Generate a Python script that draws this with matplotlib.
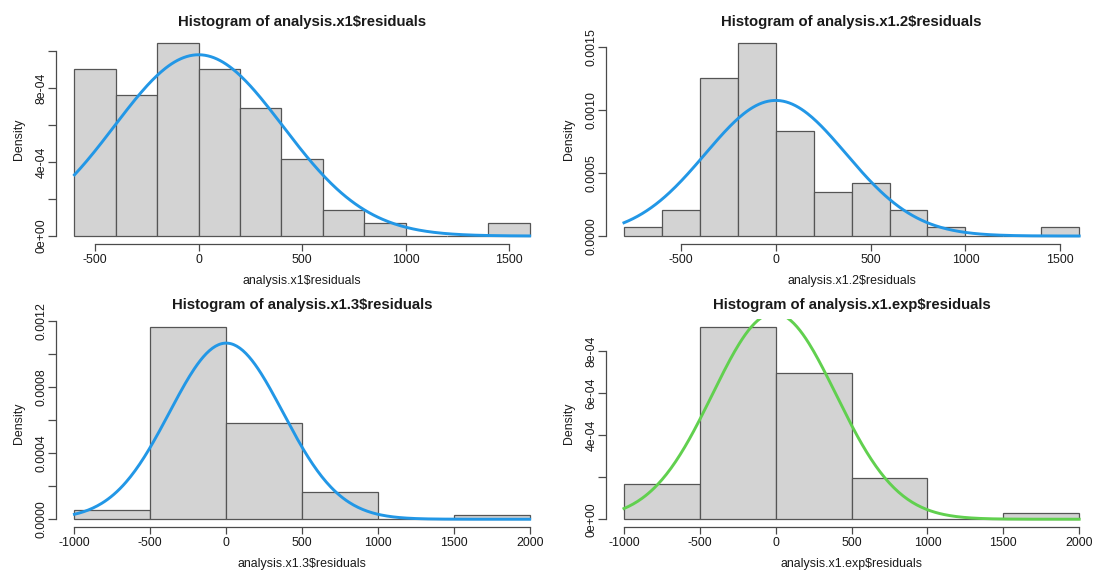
import numpy as np
import matplotlib.pyplot as plt

plt.rcParams['font.family'] = ['Liberation Sans', 'DejaVu Sans']

# residual histograms, 72 residuals each, counts per bin
edges_x1 = [-600, -400, -200, 0, 200, 400, 600, 800, 1000, 1200, 1400, 1600]
counts_x1 = [13, 11, 15, 13, 10, 6, 2, 1, 0, 0, 1]

edges_x12 = [-800, -600, -400, -200, 0, 200, 400, 600, 800, 1000, 1200, 1400, 1600]
counts_x12 = [1, 3, 18, 22, 12, 5, 6, 3, 1, 0, 0, 1]

edges_x13 = [-1000, -500, 0, 500, 1000, 1500, 2000]
counts_x13 = [2, 42, 21, 6, 0, 1]

edges_exp = [-1000, -500, 0, 500, 1000, 1500, 2000]
counts_exp = [6, 33, 25, 7, 0, 1]

# normal curves drawn on top (mean, sd)
norm_x1 = (0, 407)
norm_x12 = (0, 371)
norm_x13 = (0, 374)
norm_exp = (-10, 407)

xt_small = [-500, 0, 500, 1000, 1500]
xt_wide = [-1000, -500, 0, 500, 1000, 1500, 2000]

yt_x1 = [0, 2e-4, 4e-4, 6e-4, 8e-4, 1e-3]
yl_x1 = ['0e+00', '', '4e-04', '', '8e-04', '']
yt_x12 = [0, 5e-4, 1e-3, 1.5e-3]
yl_x12 = ['0.0000', '0.0005', '0.0010', '0.0015']
yt_x13 = [0, 2e-4, 4e-4, 6e-4, 8e-4, 1e-3, 1.2e-3]
yl_x13 = ['0.0000', '', '0.0004', '', '0.0008', '', '0.0012']
yt_exp = [0, 2e-4, 4e-4, 6e-4, 8e-4]
yl_exp = ['0e+00', '', '4e-04', '6e-04', '8e-04']

BLUE = '#2297E6'
GREEN = '#61D04F'
AXC = '#4a4a4a'
TXT = '#1a1a1a'
FS = 8.9


def panel(ax, name, edges, counts, nrm, col, xt, yt, yl):
    edges = np.array(edges, dtype=float)
    counts = np.array(counts, dtype=float)
    w = np.diff(edges)
    dens = counts / (counts.sum() * w)
    ax.bar(edges[:-1], dens, width=w, align='edge', color='#d3d3d3',
           edgecolor='#555555', linewidth=0.9, zorder=1)

    mu, sd = nrm
    xs = np.linspace(edges[0], edges[-1], 301)
    ys = np.exp(-0.5 * ((xs - mu) / sd) ** 2) / (sd * np.sqrt(2 * np.pi))
    ax.plot(xs, ys, color=col, lw=2.1, zorder=2)

    # R style axis ranges: 4% padding
    xr = edges[-1] - edges[0]
    ax.set_xlim(edges[0] - 0.04 * xr, edges[-1] + 0.04 * xr)
    ym = dens.max()
    ax.set_ylim(-0.04 * ym, ym * 1.04)

    for s in ['top', 'right']:
        ax.spines[s].set_visible(False)
    for s in ['left', 'bottom']:
        ax.spines[s].set_color(AXC)
        ax.spines[s].set_linewidth(0.9)
    ax.spines['bottom'].set_bounds(xt[0], xt[-1])
    ax.spines['left'].set_bounds(yt[0], yt[-1])

    ax.set_xticks(xt)
    ax.set_xticklabels([str(v) for v in xt])
    ax.set_yticks(yt)
    ax.set_yticklabels(yl, rotation=90, va='center')
    ax.tick_params(axis='x', length=5.3, width=0.9, color=AXC, pad=2,
                   labelsize=FS, labelcolor=TXT)
    ax.tick_params(axis='y', length=5.5, width=0.9, color=AXC, pad=0.5,
                   labelsize=FS, labelcolor=TXT)

    ax.set_xlabel(name, fontsize=FS, color=TXT, va='center')
    ax.xaxis.set_label_coords(0.5, -0.18)
    ax.set_ylabel('Density', fontsize=FS, color=TXT, va='center')
    ax.yaxis.set_label_coords(-0.075, 0.5)
    ax.text(0.5, 1.066, 'Histogram of ' + name, transform=ax.transAxes,
            ha='center', va='center', fontsize=10.7, fontweight='bold',
            color=TXT)


fig = plt.figure(figsize=(10.94, 5.71), dpi=100)
ax1 = fig.add_axes([0.0514, 0.5732, 0.4494, 0.3643])
ax2 = fig.add_axes([0.5537, 0.5732, 0.4494, 0.3643])
ax3 = fig.add_axes([0.0514, 0.0772, 0.4494, 0.3643])
ax4 = fig.add_axes([0.5537, 0.0772, 0.4494, 0.3643])

panel(ax1, 'analysis.x1$residuals', edges_x1, counts_x1, norm_x1, BLUE,
      xt_small, yt_x1, yl_x1)
panel(ax2, 'analysis.x1.2$residuals', edges_x12, counts_x12, norm_x12, BLUE,
      xt_small, yt_x12, yl_x12)
panel(ax3, 'analysis.x1.3$residuals', edges_x13, counts_x13, norm_x13, BLUE,
      xt_wide, yt_x13, yl_x13)
panel(ax4, 'analysis.x1.exp$residuals', edges_exp, counts_exp, norm_exp, GREEN,
      xt_wide, yt_exp, yl_exp)

fig.savefig('out.png', dpi=100)
